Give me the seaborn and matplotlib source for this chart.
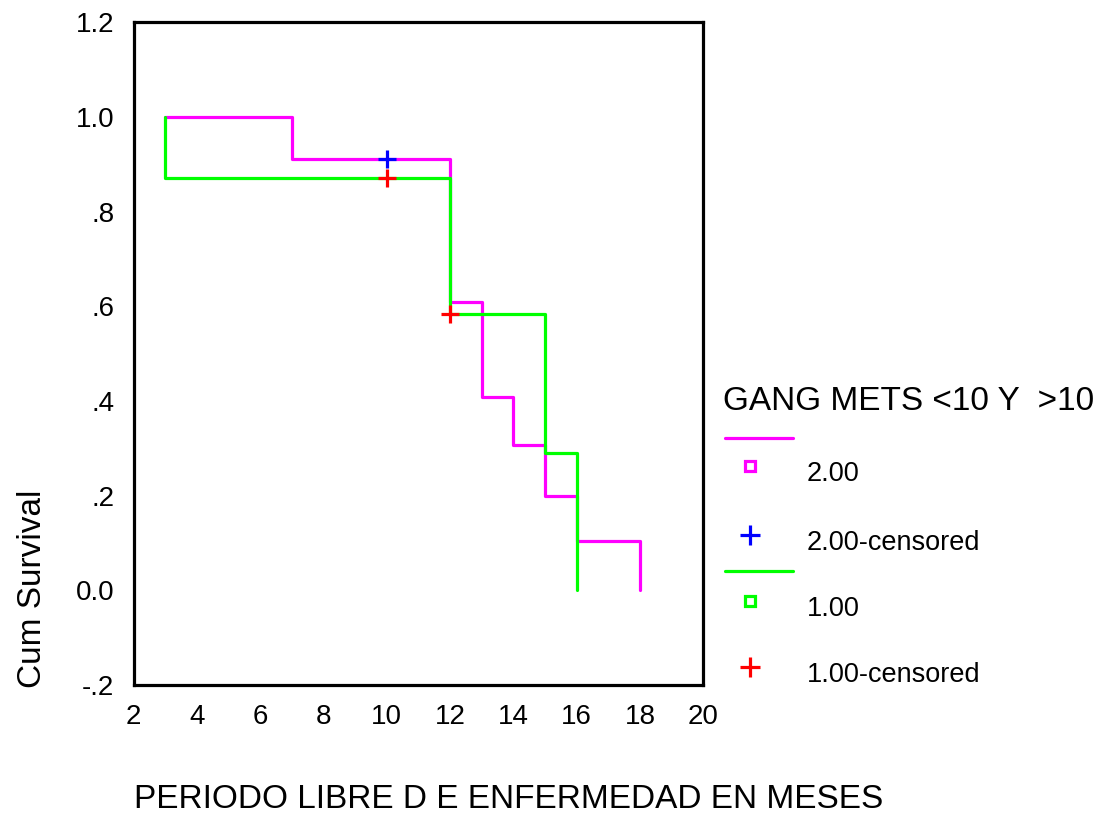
import numpy as np
import pandas as pd
import matplotlib
matplotlib.use("Agg")
import matplotlib.pyplot as plt
import seaborn as sns
from matplotlib.lines import Line2D

# --- data ---
group_labels = ["2.00", "1.00"]

time_g2 = [3, 7, 12, 13, 14, 15, 16, 18]
surv_g2 = [1.0, 0.912, 0.609, 0.408, 0.306, 0.200, 0.105, 0.0]

time_g1 = [3, 3, 12, 15, 16]
surv_g1 = [1.0, 0.872, 0.584, 0.290, 0.0]

cens_time_g2 = [10]
cens_surv_g2 = [0.912]
cens_time_g1 = [10, 12]
cens_surv_g1 = [0.872, 0.584]

x_ticks = [2, 4, 6, 8, 10, 12, 14, 16, 18, 20]
y_ticks = [-0.2, 0.0, 0.2, 0.4, 0.6, 0.8, 1.0, 1.2]
y_tick_labels = ["-.2", "0.0", ".2", ".4", ".6", ".8", "1.0", "1.2"]

line_colors = {"2.00": "#FF00FF", "1.00": "#00FF00"}
cens_colors = {"2.00": "#0000FF", "1.00": "#FF0000"}

# build long tables for seaborn
steps = pd.concat([
    pd.DataFrame({"time": time_g2, "surv": surv_g2, "group": "2.00"}),
    pd.DataFrame({"time": time_g1, "surv": surv_g1, "group": "1.00"}),
], ignore_index=True)
cens = pd.concat([
    pd.DataFrame({"time": cens_time_g2, "surv": cens_surv_g2, "group": "2.00"}),
    pd.DataFrame({"time": cens_time_g1, "surv": cens_surv_g1, "group": "1.00"}),
], ignore_index=True)

sns.set_theme(style="white")
plt.rcParams["font.family"] = ["Liberation Sans", "DejaVu Sans"]
plt.rcParams["text.color"] = "black"
plt.rcParams["axes.labelcolor"] = "black"

fig = plt.figure(figsize=(11.14, 8.14), dpi=100)
ax = fig.add_axes([0.1200, 0.1585, 0.5113, 0.8140])

sns.lineplot(data=steps, x="time", y="surv", hue="group", hue_order=group_labels,
             palette=line_colors, estimator=None, sort=False, drawstyle="steps-post",
             linewidth=2.3, legend=False, ax=ax)
sns.scatterplot(data=cens, x="time", y="surv", hue="group", hue_order=group_labels,
                palette=cens_colors, marker="+", s=170, linewidth=2.3,
                legend=False, ax=ax, zorder=5)

ax.set_xlim(2, 20)
ax.set_ylim(-0.2, 1.2)
ax.set_xticks(x_ticks)
ax.set_xticklabels([str(t) for t in x_ticks])
ax.set_yticks(y_ticks)
ax.set_yticklabels(y_tick_labels)
ax.tick_params(axis="both", direction="out", length=5, width=2.2, labelsize=20,
               color="black", labelcolor="black", pad=9)
for side in ["left", "right", "top", "bottom"]:
    ax.spines[side].set_visible(True)
    ax.spines[side].set_color("black")
    ax.spines[side].set_linewidth(2.3)

# axis labels, pinned where SPSS put them
ax.set_xlabel("PERIODO LIBRE D E ENFERMEDAD EN MESES", fontsize=24,
              ha="left", va="baseline")
ax.xaxis.set_label_coords(0.0, -0.1854)
ax.set_ylabel("Cum Survival", fontsize=24, ha="left", va="bottom")
ax.yaxis.set_label_coords(-0.150, -0.005)

# --- legend in the SPSS layout, drawn in figure coordinates ---
W, H = 1114, 814
def fx(px):
    return px / W
def fy(py):
    return 1 - py / H

fig.text(fx(723), fy(401), "GANG METS <10 Y  >10", fontsize=24, va="center", ha="left")
legend_rows = [
    ("line", "2.00", 438, None),
    ("square", "2.00", 466, "2.00"),
    ("plus", "2.00", 535, "2.00-censored"),
    ("line", "1.00", 571, None),
    ("square", "1.00", 601, "1.00"),
    ("plus", "1.00", 667, "1.00-censored"),
]
for kind, grp, py, label in legend_rows:
    if kind == "line":
        fig.add_artist(Line2D([fx(725), fx(793)], [fy(py), fy(py)],
                              color=line_colors[grp], linewidth=2.3))
    elif kind == "square":
        fig.add_artist(Line2D([fx(750)], [fy(py)], marker="s", markersize=7,
                              markerfacecolor="white", markeredgecolor=line_colors[grp],
                              markeredgewidth=2.3, linestyle="none"))
    else:
        fig.add_artist(Line2D([fx(750)], [fy(py)], marker="+", markersize=14,
                              markeredgecolor=cens_colors[grp], markeredgewidth=2.3,
                              linestyle="none"))
    if label:
        fig.text(fx(807), fy(py + 8), label, fontsize=19.5, va="center", ha="left")

fig.savefig("out.png", dpi=100, facecolor="white")
